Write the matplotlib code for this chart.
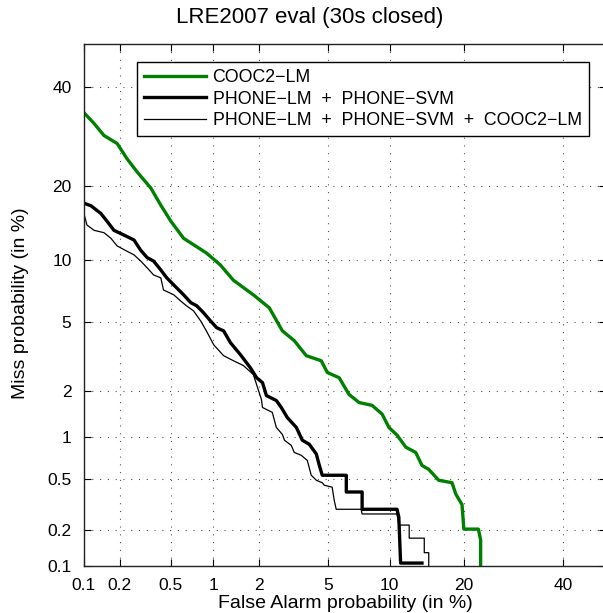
import numpy as np
import matplotlib
matplotlib.use('Agg')
import matplotlib.pyplot as plt
from statistics import NormalDist

plt.rcParams['font.family'] = ['Liberation Sans', 'DejaVu Sans']

# datos (en %)
fa_cooc = [0.1, 0.122, 0.148, 0.19, 0.228, 0.274, 0.352, 0.42, 0.50, 0.62,
           0.90, 1.12, 1.37, 1.84, 2.31, 2.77, 3.25, 3.80, 4.59, 4.95,
           5.71, 6.41, 7.19, 8.31, 9.26, 9.94, 10.8, 11.8, 13.0, 13.8,
           14.7, 16.1, 18.1, 18.7, 19.7, 20.0, 22.5, 22.9, 22.9]
miss_cooc = [34.2, 31.9, 29.4, 27.8, 24.9, 22.5, 19.7, 17.0, 14.7, 12.5,
             10.8, 9.55, 8.1, 6.88, 5.92, 4.47, 3.95, 3.25, 3.04, 2.59,
             2.41, 1.90, 1.69, 1.62, 1.42, 1.16, 1.03, 0.85, 0.78, 0.63,
             0.59, 0.49, 0.47, 0.385, 0.32, 0.204, 0.204, 0.166, 0.1]

fa_svm = [0.1, 0.115, 0.139, 0.157, 0.179, 0.216, 0.26, 0.294, 0.33, 0.37,
          0.42, 0.466, 0.525, 0.62, 0.70, 0.77, 0.86, 0.96, 1.06, 1.18,
          1.31, 1.52, 1.76, 1.93, 2.10, 2.22, 2.55, 2.73, 2.96, 3.34,
          3.61, 3.95, 4.32, 4.47, 4.65, 6.21, 6.21, 7.44, 7.44, 10.8,
          11.0, 11.2, 13.8]
miss_svm = [17.3, 16.9, 15.8, 14.7, 13.5, 12.9, 12.3, 11.1, 10.3, 9.94,
            9.05, 8.31, 7.69, 6.88, 6.28, 6.06, 5.58, 5.06, 4.65, 4.47,
            3.85, 3.30, 2.77, 2.41, 2.25, 1.87, 1.74, 1.57, 1.35, 1.16,
            0.95, 0.89, 0.76, 0.64, 0.534, 0.534, 0.40, 0.40, 0.294, 0.294,
            0.255, 0.106, 0.106]

fa_all = [0.1, 0.106, 0.122, 0.148, 0.169, 0.19, 0.228, 0.26, 0.294, 0.33,
          0.37, 0.42, 0.44, 0.525, 0.59, 0.65, 0.73, 0.82, 0.90, 1.01,
          1.18, 1.37, 1.59, 1.84, 1.93, 2.07, 2.10, 2.41, 2.55, 2.77,
          2.85, 3.12, 3.25, 3.56, 3.85, 4.05, 4.32, 4.65, 4.77, 5.25,
          5.38, 5.51, 7.36, 7.44, 10.8, 11.0, 12.2, 12.2, 14.1, 14.1,
          14.7, 14.7]
miss_all = [15.7, 14.2, 13.5, 13.2, 12.5, 11.6, 11.0, 10.6, 9.94, 9.26,
            8.58, 8.31, 7.27, 6.88, 6.41, 6.06, 5.71, 5.06, 4.47, 3.75,
            3.25, 3.04, 2.85, 2.52, 2.19, 1.76, 1.57, 1.46, 1.16, 1.04,
            0.95, 0.875, 0.78, 0.745, 0.685, 0.534, 0.49, 0.47, 0.45, 0.435,
            0.346, 0.294, 0.294, 0.27, 0.27, 0.22, 0.22, 0.172, 0.172, 0.13,
            0.13, 0.1]

ticks = [0.1, 0.2, 0.5, 1, 2, 5, 10, 20, 40]
tick_labels = ['0.1', '0.2', '0.5', '1', '2', '5', '10', '20', '40']

nd = NormalDist()
_ppf = np.vectorize(lambda p: nd.inv_cdf(min(max(p / 100.0, 1e-9), 1 - 1e-9)),
                    otypes=[float])
_cdf = np.vectorize(lambda z: nd.cdf(z) * 100.0, otypes=[float])


def probit(p):
    return _ppf(np.asarray(p, dtype=float))


def inv_probit(z):
    return _cdf(np.asarray(z, dtype=float))


fig = plt.figure(figsize=(6.03, 6.13), dpi=100)
ax = fig.add_axes([84 / 603, 47 / 613, 522 / 603, 522 / 613])
ax.set_xscale('function', functions=(probit, inv_probit))
ax.set_yscale('function', functions=(probit, inv_probit))

ax.plot(fa_cooc, miss_cooc, color='#008000', lw=2.4, label='COOC2\u2212LM')
ax.plot(fa_svm, miss_svm, color='black', lw=2.4, label='PHONE\u2212LM  +  PHONE\u2212SVM')
ax.plot(fa_all, miss_all, color='black', lw=0.9,
        label='PHONE\u2212LM  +  PHONE\u2212SVM  +  COOC2\u2212LM')

ax.set_xlim(0.1, 50)
ax.set_ylim(0.1, 50)
ax.set_xticks(ticks)
ax.set_xticklabels(tick_labels)
ax.set_yticks(ticks)
ax.set_yticklabels(tick_labels)
ax.minorticks_off()
ax.tick_params(direction='in', top=True, right=True, length=5, width=0.8,
               labelsize=12.5, colors='black')
ax.tick_params(axis='x', pad=9)
ax.tick_params(axis='y', pad=9)
ax.grid(True, color='#555555', linestyle=(0, (1, 6)), linewidth=0.8)
for s in ax.spines.values():
    s.set_linewidth(1.0)
    s.set_color('#222222')

xl = ax.set_xlabel('False Alarm probability (in %)', fontsize=14)
ax.xaxis.set_label_coords(0.5, (566 - 603) / 522)
xl.set_va('center')
yl = ax.set_ylabel('Miss probability (in %)', fontsize=14)
ax.yaxis.set_label_coords((20 - 84) / 522, (566 - 303) / 522)
yl.set_va('center')

fig.text(310 / 603, 1 - 18 / 613, 'LRE2007 eval (30s closed)', ha='center',
         va='center', fontsize=16)

leg = ax.legend(loc='upper left', bbox_to_anchor=(137 / 603, 1 - 62 / 613),
                bbox_transform=fig.transFigure, borderaxespad=0, fontsize=12.8,
                fancybox=False, framealpha=1, edgecolor='black',
                handlelength=3.5, handletextpad=0.35, labelspacing=0.25,
                borderpad=0.4)
leg.get_frame().set_linewidth(1.0)

fig.savefig('out.png', dpi=100)
